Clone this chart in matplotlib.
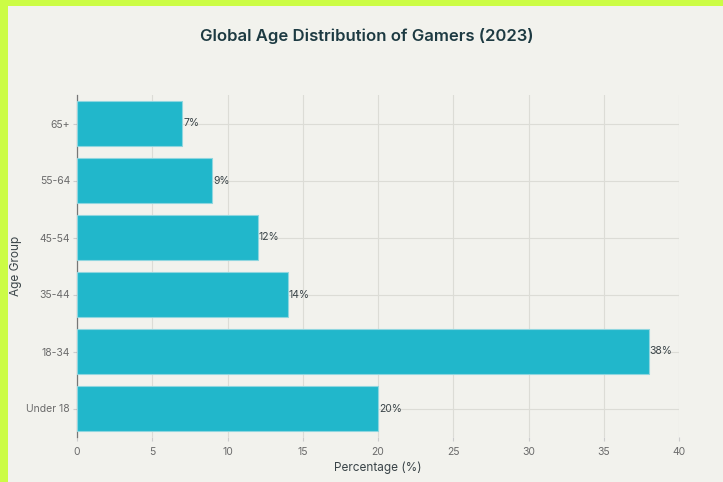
import matplotlib.pyplot as plt
from matplotlib.patches import Rectangle

age_groups = ['Under 18', '18-34', '35-44', '45-54', '55-64', '65+']
percentages = [20, 38, 14, 12, 9, 7]
x_ticks = [0, 5, 10, 15, 20, 25, 30, 35, 40]

plt.rcParams['font.family'] = ['Inter', 'DejaVu Sans']

W, H = 723, 482
fig = plt.figure(figsize=(W / 100, H / 100), dpi=100)
fig.patch.set_facecolor('#ccfc45')
# light panel inset from the top/left edges
fig.patches.append(Rectangle((8 / W, 0), 1, (H - 6) / H, transform=fig.transFigure,
                             facecolor='#f2f2ed', edgecolor='none', zorder=-10))

ax = fig.add_axes([77 / W, (H - 437) / H, 602 / W, 342 / H])
ax.set_facecolor('#f2f2ed')

bars = ax.barh(age_groups, percentages, height=0.79, color='#21b7cb',
               edgecolor='#8fd6df', linewidth=0.8, zorder=3)
for bar, v in zip(bars, percentages):
    ax.text(bar.get_width() + 0.05, bar.get_y() + bar.get_height() / 2, f'{v}%',
            va='center', ha='left', fontsize=7.5, color='#3a4448', zorder=4)

ax.set_xlim(0, 40)
ax.set_ylim(-0.5, 5.5)
ax.set_xticks(x_ticks)
ax.grid(True, color='#dcdcd6', linewidth=0.8, zorder=0)
ax.set_axisbelow(True)

for side in ['top', 'right', 'bottom']:
    ax.spines[side].set_visible(False)
ax.spines['left'].set_color('#777777')
ax.spines['left'].set_linewidth(0.9)

ax.tick_params(axis='both', colors='#cccccc', labelcolor='#6b6b6b', labelsize=7.5, length=3, pad=2)
ax.tick_params(axis='x', pad=4)

ax.set_xlabel('Percentage (%)', fontsize=8.5, color='#3a4448')
ax.set_ylabel('Age Group', fontsize=8.5, color='#3a4448')
ax.xaxis.set_label_coords(0.5, -0.073)
ax.yaxis.set_label_coords(-0.091, 0.5)

fig.text(367 / W, 1 - 36 / H, 'Global Age Distribution of Gamers (2023)',
         ha='center', va='center', fontsize=12, fontweight='semibold', color='#1d3a42')

fig.savefig('out.png', dpi=100, facecolor=fig.get_facecolor())
